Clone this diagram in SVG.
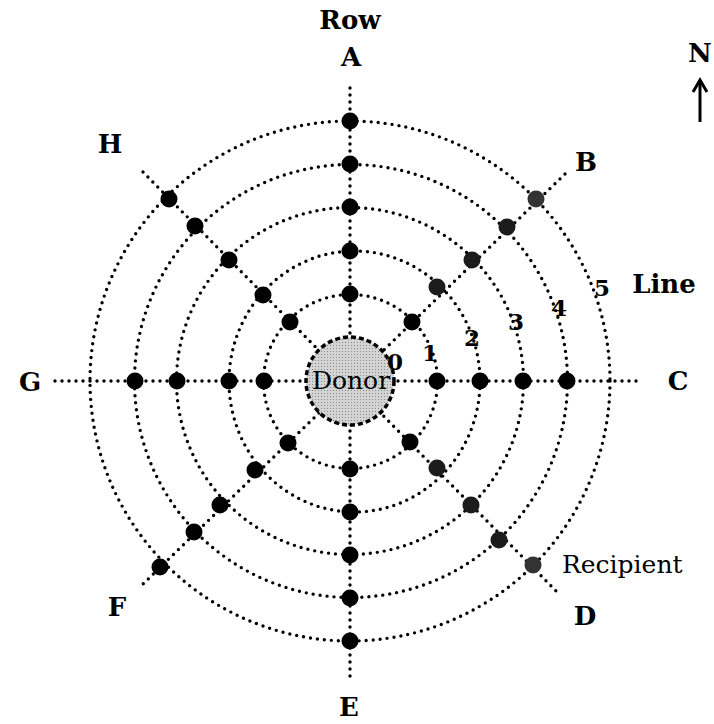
<svg xmlns="http://www.w3.org/2000/svg" width="714" height="724" viewBox="0 0 714 724">
<style>
.dl{fill:none;stroke:#000;stroke-width:3.4;stroke-linecap:round;stroke-dasharray:0 7}
.dot{fill:#000}
.gd{fill:#1c1c1c}
.rc{fill:#333}
.lb{font-family:"DejaVu Serif","Liberation Serif",serif;font-weight:bold;font-size:26px;text-anchor:middle;fill:#000}
.nm{font-family:"DejaVu Serif","Liberation Serif",serif;font-weight:bold;font-size:23px;text-anchor:middle;fill:#000}
.tx{font-family:"DejaVu Serif","Liberation Serif",serif;font-size:25px;fill:#000}
</style>
<defs>
<pattern id="stip" width="3" height="3" patternUnits="userSpaceOnUse">
<rect width="3" height="3" fill="#d4d4d4"/>
<rect width="1" height="1" fill="#8a8a8a"/>
</pattern>
</defs>
<g id="connectors">
<circle class="dl" cx="350.5" cy="381.5" r="87"/>
<ellipse class="dl" cx="354.5" cy="381.5" rx="125.5" ry="130.5"/>
<circle class="dl" cx="350" cy="381" r="173.5"/>
<circle class="dl" cx="351" cy="381" r="216.5"/>
<circle class="dl" cx="350" cy="381" r="260"/>
<line class="dl" x1="350" y1="88" x2="350" y2="680"/>
<line class="dl" x1="55" y1="381" x2="640" y2="381"/>
<line class="dl" x1="143" y1="172" x2="558" y2="593"/>
<line class="dl" x1="565" y1="174" x2="142" y2="585"/>
</g>
<g id="donor">
<circle cx="350" cy="381" r="44" fill="url(#stip)" stroke="#000" stroke-width="3.5" stroke-dasharray="5 3"/>
<text class="tx" x="351" y="389" text-anchor="middle">Donor</text>
</g>
<g id="row-A">
<circle class="dot" cx="350" cy="121" r="8.5"/><circle class="dot" cx="350" cy="164" r="8.5"/><circle class="dot" cx="350" cy="207" r="8.5"/><circle class="dot" cx="350" cy="251" r="8.5"/><circle class="dot" cx="350" cy="294" r="8.5"/>
</g>
<g id="row-C">
<circle class="dot" cx="437" cy="381" r="8.5"/><circle class="dot" cx="480" cy="381" r="8.5"/><circle class="dot" cx="523" cy="381" r="8.5"/><circle class="dot" cx="567" cy="381" r="8.5"/>
</g>
<g id="row-E">
<circle class="dot" cx="350" cy="469" r="8.5"/><circle class="dot" cx="350" cy="512" r="8.5"/><circle class="dot" cx="350" cy="555" r="8.5"/><circle class="dot" cx="350" cy="598" r="8.5"/><circle class="dot" cx="350" cy="641" r="8.5"/>
</g>
<g id="row-G">
<circle class="dot" cx="264" cy="381" r="8.5"/><circle class="dot" cx="229" cy="381" r="8.5"/><circle class="dot" cx="177" cy="381" r="8.5"/><circle class="dot" cx="135" cy="381" r="8.5"/>
</g>
<g id="row-B">
<circle class="dot" cx="412" cy="322" r="8.5"/><circle class="gd" cx="437" cy="287" r="8.5"/><circle class="gd" cx="472" cy="260" r="8.5"/><circle class="gd" cx="507" cy="227" r="8.5"/><circle class="rc" cx="536" cy="199" r="8.5"/>
</g>
<g id="row-H">
<circle class="dot" cx="290" cy="322" r="8.5"/><circle class="dot" cx="263" cy="295" r="8.5"/><circle class="dot" cx="229" cy="260" r="8.5"/><circle class="dot" cx="195" cy="226" r="8.5"/><circle class="dot" cx="169" cy="199" r="8.5"/>
</g>
<g id="row-F">
<circle class="dot" cx="288" cy="443" r="8.5"/><circle class="dot" cx="255" cy="470" r="8.5"/><circle class="dot" cx="220" cy="505" r="8.5"/><circle class="dot" cx="194" cy="532" r="8.5"/><circle class="dot" cx="160" cy="567" r="8.5"/>
</g>
<g id="row-D">
<circle class="dot" cx="410" cy="442" r="8.5"/><circle class="gd" cx="437" cy="468" r="8.5"/><circle class="gd" cx="471" cy="505" r="8.5"/><circle class="gd" cx="499" cy="540" r="8.5"/><circle class="rc" cx="533" cy="565" r="8.5"/>
</g>
<g id="labels">
<text class="lb" x="350" y="29">Row</text>
<text class="lb" x="351" y="66">A</text>
<text class="lb" x="110" y="153">H</text>
<text class="lb" x="586" y="171">B</text>
<text class="lb" x="30" y="391">G</text>
<text class="lb" x="678" y="390">C</text>
<text class="lb" x="117" y="616">F</text>
<text class="lb" x="585" y="625">D</text>
<text class="lb" x="349" y="716">E</text>
<text class="lb" x="664" y="293">Line</text>
<text class="tx" x="562" y="573">Recipient</text>
<text class="nm" x="395" y="370">0</text>
<text class="nm" x="430" y="361">1</text>
<text class="nm" x="472" y="346">2</text>
<text class="nm" x="516" y="330">3</text>
<text class="nm" x="559" y="316">4</text>
<text class="nm" x="602" y="296">5</text>
</g>
<g id="north">
<text class="lb" x="700" y="62">N</text>
<line x1="700" y1="122" x2="700" y2="81" stroke="#000" stroke-width="3"/>
<polyline points="693,92 700,80 707,92" fill="none" stroke="#000" stroke-width="3"/>
</g>
</svg>
